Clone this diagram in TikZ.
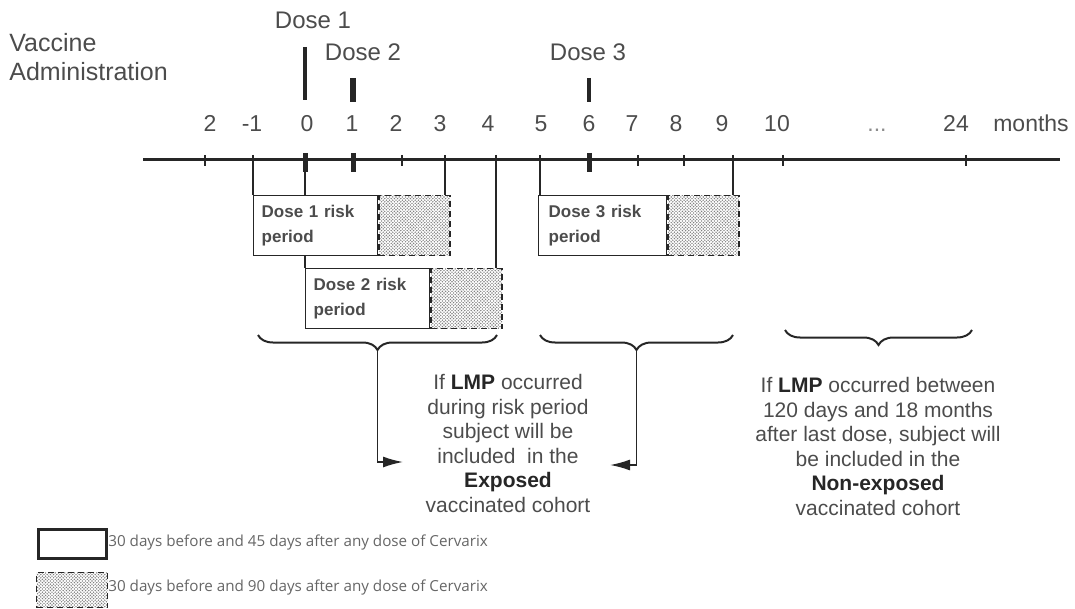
\documentclass[tikz,border=0pt]{standalone}
\usepackage{fontspec}
\setmainfont{Liberation Sans}
\newfontfamily\legendfont{Open Sans}
\usetikzlibrary{arrows.meta,patterns,decorations.pathreplacing}
\pgfdeclarepatternformonly{finedots}{\pgfqpoint{-0.1pt}{-0.1pt}}{\pgfqpoint{1.7pt}{1.7pt}}{\pgfqpoint{1.6pt}{1.6pt}}{%
  \pgfpathcircle{\pgfqpoint{0.4pt}{0.4pt}}{0.4pt}%
  \pgfpathcircle{\pgfqpoint{1.2pt}{1.2pt}}{0.4pt}%
  \pgfusepath{fill}}
\definecolor{txtgray}{gray}{0.3}
\definecolor{linegray}{gray}{0.15}
\newcommand{\keyword}[1]{\textbf{\color{black!85}#1}}
\tikzset{
  ticklab/.style={anchor=base, font=\fontsize{11.5}{13}\selectfont, text=txtgray},
  doselab/.style={font=\fontsize{12}{14.5}\selectfont, text=txtgray},
  tickmark/.style={draw=linegray, line width=1pt},
  dosetick/.style={draw=linegray, line width=2.5pt},
  dosebar/.style={draw=linegray, line width=2pt},
  riskbox/.style={draw=linegray, line width=0.7pt, fill=white, anchor=north west,
    minimum width=62pt, minimum height=30pt, text width=54pt, inner sep=4pt,
    align=left, font=\bfseries\fontsize{8.5}{12.5}\selectfont, text=txtgray},
  riskshade/.style={draw=linegray, densely dashed, line width=0.7pt, fill=white,
    pattern=finedots, pattern color=black!50, anchor=north west,
    minimum width=35.5pt, minimum height=30pt, inner sep=0pt},
  link/.style={draw=linegray, line width=0.6pt},
  curly/.style={draw=black!85, line width=1pt, decorate,
    decoration={brace, mirror, amplitude=7.5pt}},
  flow/.style={draw=black!85, line width=0.8pt, -{Latex[length=10pt, width=5.5pt]}},
  note/.style={align=center, font=\fontsize{10.5}{12.3}\selectfont, text=txtgray},
  legbox/.style={inner sep=0pt, anchor=north west},
  legtext/.style={anchor=west, inner sep=0pt, text=black!60,
    font=\legendfont\fontsize{7.6}{9}\selectfont}
}
\begin{document}
\begin{tikzpicture}[x=0.5pt, y=-0.5pt]
\useasboundingbox (0,0) rectangle (1075,609);
\node[doselab, align=left, anchor=west, inner sep=0pt,
  font=\fontsize{12.5}{14.5}\selectfont] (vacc) at (9,57.5) {Vaccine\\Administration};
\coordinate (tlstart) at (143,160);
\coordinate (tlend) at (1060,160);
\draw[draw=linegray, line width=1.5pt] (tlstart) -- (tlend);
\foreach \n/\x/\lx/\lab in {mm2/205/210/2, mm1/253/252/-1, m0/305/307/0, m1/353/352/1,
  m2/402/396/2, m3/445/440/3, m4/496/488/4, m5/540/541/5, m6/589/589/6, m7/638/632/7,
  m8/684/676/8, m9/733/722/9, m10/783/777/10, m24/966/956/24}{
  \coordinate (\n) at (\x,160);
  \draw[tickmark] ([yshift=2.5pt]\n) -- ([yshift=-3pt]\n);
  \node[ticklab] (l\n) at (\lx,131.5) {\lab};
}
\node[ticklab, text=black!45] (ldots) at (877,131.5) {...};
\node[ticklab] (lmonths) at (1031,131.5) {months};
\foreach \n in {m0,m1,m6}
  \draw[dosetick] ([yshift=3.5pt]\n) -- ([yshift=-6pt]\n);
\draw[dosebar] (305,47) -- (305,100);
\draw[dosebar, line width=2.6pt] (353,78) -- (353,102);
\draw[dosebar] (589,78) -- (589,102);
\node[doselab] (d1) at (313,20) {Dose 1};
\node[doselab] (d2) at (363,52) {Dose 2};
\node[doselab] (d3) at (588,52) {Dose 3};

\node[riskbox] (r1) at (253,195) {Dose 1 risk\\period};
\node[riskshade] (r1s) at (r1.north east) {};
\node[riskbox] (r2) at (305,268) {Dose 2 risk\\period};
\node[riskshade] (r2s) at (r2.north east) {};
\node[riskbox, minimum width=64pt] (r3) at (538,195) {Dose 3 risk\\period};
\node[riskshade] (r3s) at (r3.north east) {};

\draw[link] (mm1) -- (mm1 |- r1.north);
\draw[link] (m0) -- (m0 |- r1.north);
\draw[link] (m3) -- (m3 |- r1s.north);
\draw[link] (m0 |- r1.south) -- (m0 |- r2.north);
\draw[link] (m4) -- (m4 |- r2s.north);
\draw[link] (m5) -- (m5 |- r3.north);
\draw[link] (m9) -- (m9 |- r3s.north);

\draw[curly] (258,335) -- (497,335);
\draw[curly] (540,335) -- (733,335);
\draw[curly] (785,330) -- (972,330);
\coordinate (b1) at (377.5,350);
\coordinate (b2) at (636.5,350);

\node[note] (exp) at (508,443.5) {If \keyword{LMP} occurred\\during risk period\\subject will be\\included\ \ in the\\\keyword{Exposed}\\vaccinated cohort};
\node[note] (nonexp) at (878,446.5) {If \keyword{LMP} occurred between\\120 days and 18 months\\after last dose, subject will\\be included in the\\\keyword{Non-exposed}\\vaccinated cohort};
\coordinate (e1) at (403,462);
\coordinate (e2) at (610,465);
\draw[flow] (b1) |- (e1);
\draw[flow] (b2) |- (e2);

\node[legbox, draw=linegray, line width=1.3pt, minimum width=34pt, minimum height=14.5pt] (lg1) at (37,528) {};
\node[legbox, draw=linegray, densely dashed, line width=0.7pt, pattern=finedots, pattern color=black!50,
  minimum width=35.5pt, minimum height=17.5pt] (lg2) at (36,572) {};
\node[legtext] (lt1) at (108,543) {30 days before and 45 days after any dose of Cervarix};
\node[legtext] (lt2) at (108,588) {30 days before and 90 days after any dose of Cervarix};
\end{tikzpicture}
\end{document}
